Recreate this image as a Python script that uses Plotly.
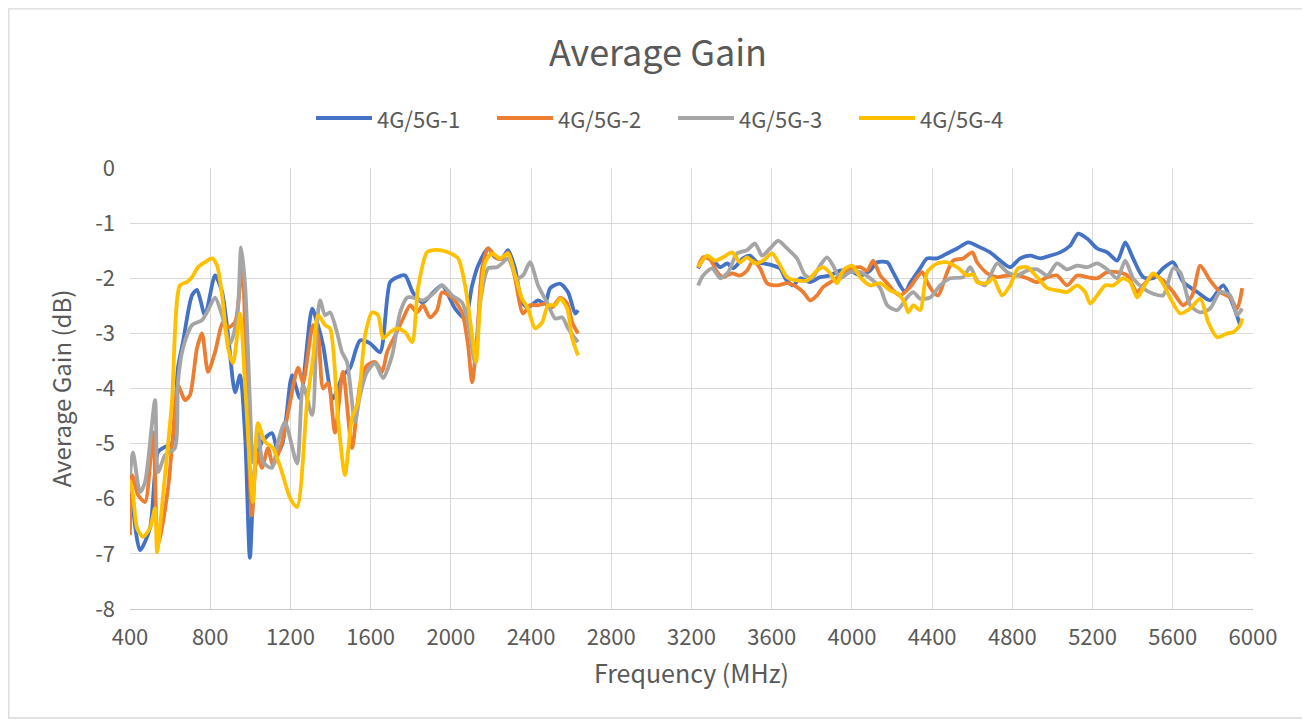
import plotly.graph_objects as go

# ---------------- data ----------------
series_names = ["4G/5G-1", "4G/5G-2", "4G/5G-3", "4G/5G-4"]
series_colors = ["#4472C4", "#ED7D31", "#A5A5A5", "#FFC000"]

# Band 1 (low band)
f1_b1 = [400, 450, 500, 540, 575, 609, 639, 664, 709, 734, 774, 824, 859, 889, 924, 949, 974, 998, 1023, 1058, 1108, 1138, 1160, 1180, 1208, 1248, 1308, 1333, 1363, 1412, 1462, 1497, 1547, 1597, 1647, 1697, 1732, 1772, 1811, 1861, 1911, 1956, 2021, 2071, 2106, 2136, 2186, 2220, 2255, 2285, 2320, 2355, 2385, 2435, 2470, 2495, 2545, 2585, 2620, 2634]
g1_b1 = [-5.57, -6.93, -6.53, -5.15, -5.06, -5.0, -3.63, -3.16, -2.31, -2.21, -2.67, -1.95, -2.25, -3.03, -4.07, -3.76, -4.85, -7.07, -5.44, -4.97, -4.81, -5.15, -5.0, -4.5, -3.76, -4.18, -2.55, -2.8, -3.22, -4.18, -3.76, -3.63, -3.13, -3.18, -3.34, -2.07, -1.98, -1.95, -2.26, -2.44, -2.26, -2.13, -2.55, -2.73, -2.13, -1.77, -1.46, -1.62, -1.64, -1.49, -1.82, -2.44, -2.53, -2.4, -2.46, -2.18, -2.1, -2.26, -2.64, -2.58]

f2_b1 = [400, 410, 440, 475, 515, 540, 590, 614, 639, 674, 699, 734, 759, 789, 824, 864, 889, 924, 959, 984, 1008, 1033, 1058, 1088, 1113, 1158, 1198, 1238, 1263, 1313, 1338, 1363, 1388, 1422, 1462, 1507, 1547, 1582, 1622, 1657, 1682, 1722, 1762, 1797, 1831, 1861, 1896, 1931, 1956, 2006, 2056, 2086, 2106, 2131, 2156, 2186, 2230, 2255, 2285, 2320, 2360, 2395, 2435, 2470, 2505, 2545, 2580, 2605, 2634]
g2_b1 = [-6.66, -5.57, -5.93, -6.06, -4.79, -6.84, -5.8, -4.85, -3.94, -4.21, -4.12, -3.27, -3.0, -3.7, -3.34, -2.8, -2.89, -2.8, -1.77, -4.25, -6.3, -5.16, -5.44, -5.08, -5.39, -4.97, -4.25, -3.62, -3.89, -2.85, -3.04, -4.0, -3.9, -4.8, -3.7, -5.08, -3.94, -3.58, -3.52, -3.7, -3.34, -3.04, -2.73, -2.49, -2.62, -2.49, -2.71, -2.58, -2.26, -2.35, -2.62, -3.22, -3.89, -3.04, -1.82, -1.46, -1.64, -1.64, -1.53, -2.0, -2.64, -2.49, -2.49, -2.46, -2.53, -2.35, -2.46, -2.8, -3.0]

f3_b1 = [400, 415, 450, 475, 525, 540, 575, 624, 639, 664, 709, 759, 789, 824, 859, 899, 934, 954, 974, 998, 1013, 1038, 1063, 1108, 1138, 1173, 1233, 1263, 1308, 1333, 1348, 1373, 1398, 1432, 1457, 1482, 1522, 1547, 1582, 1622, 1662, 1707, 1747, 1782, 1811, 1861, 1911, 1956, 2006, 2056, 2086, 2121, 2146, 2186, 2230, 2255, 2285, 2330, 2360, 2395, 2435, 2480, 2520, 2555, 2585, 2634]
g3_b1 = [-5.57, -5.16, -5.88, -5.7, -4.21, -5.52, -5.21, -5.08, -3.89, -3.27, -2.85, -2.76, -2.58, -2.35, -2.67, -3.18, -2.73, -1.44, -2.13, -4.25, -5.34, -4.8, -5.34, -5.44, -4.97, -4.61, -5.36, -3.94, -4.48, -2.8, -2.4, -2.67, -2.62, -2.98, -3.34, -3.52, -4.61, -4.12, -3.7, -3.54, -3.81, -3.4, -2.62, -2.35, -2.35, -2.4, -2.28, -2.13, -2.31, -2.44, -2.8, -3.54, -2.44, -1.82, -1.8, -1.73, -1.64, -2.0, -1.95, -1.71, -2.13, -2.44, -2.73, -2.71, -2.91, -3.16]

f4_b1 = [400, 415, 435, 465, 500, 525, 535, 565, 609, 649, 684, 709, 739, 774, 809, 834, 859, 889, 914, 949, 974, 1013, 1038, 1073, 1113, 1158, 1198, 1233, 1283, 1313, 1338, 1373, 1398, 1437, 1472, 1507, 1537, 1572, 1607, 1637, 1662, 1697, 1732, 1772, 1807, 1836, 1881, 1911, 1946, 1986, 2036, 2071, 2106, 2126, 2146, 2171, 2205, 2245, 2285, 2320, 2355, 2385, 2420, 2455, 2485, 2520, 2545, 2580, 2605, 2634]
g4_b1 = [-5.66, -5.93, -6.53, -6.69, -6.53, -6.17, -6.97, -5.93, -4.25, -2.13, -2.07, -1.98, -1.8, -1.71, -1.64, -1.77, -2.31, -3.27, -3.54, -2.64, -3.94, -6.06, -4.63, -4.97, -5.08, -5.52, -5.99, -6.15, -4.25, -3.45, -2.67, -2.85, -2.91, -4.54, -5.57, -4.54, -4.25, -3.04, -2.62, -2.67, -3.09, -2.98, -2.91, -2.98, -3.16, -2.18, -1.53, -1.49, -1.49, -1.53, -1.64, -2.13, -3.04, -3.52, -2.44, -1.71, -1.55, -1.64, -1.55, -1.95, -2.37, -2.55, -2.91, -2.8, -2.49, -2.49, -2.37, -2.55, -3.09, -3.4]

# Band 2 (mid/high band)
f1_b2 = [3233, 3268, 3308, 3343, 3378, 3407, 3457, 3492, 3527, 3557, 3607, 3642, 3667, 3707, 3742, 3791, 3841, 3891, 3941, 3991, 4041, 4091, 4126, 4176, 4205, 4240, 4265, 4290, 4340, 4375, 4425, 4475, 4525, 4580, 4639, 4689, 4739, 4789, 4839, 4889, 4939, 4989, 5038, 5088, 5128, 5173, 5223, 5273, 5323, 5363, 5402, 5452, 5502, 5552, 5602, 5652, 5722, 5786, 5851, 5901, 5936]
g1_b2 = [-1.82, -1.62, -1.68, -1.8, -1.73, -1.82, -1.64, -1.59, -1.71, -1.73, -1.77, -1.82, -2.0, -2.13, -2.0, -2.07, -1.98, -1.95, -1.86, -1.86, -1.95, -1.86, -1.71, -1.71, -1.89, -2.13, -2.25, -2.09, -1.82, -1.64, -1.64, -1.55, -1.46, -1.35, -1.44, -1.53, -1.68, -1.8, -1.64, -1.59, -1.64, -1.59, -1.53, -1.41, -1.19, -1.28, -1.46, -1.53, -1.68, -1.35, -1.64, -1.98, -2.0, -1.82, -1.71, -2.07, -2.25, -2.4, -2.13, -2.49, -2.85]

f2_b2 = [3233, 3258, 3293, 3328, 3358, 3402, 3442, 3477, 3507, 3542, 3577, 3627, 3677, 3726, 3757, 3791, 3826, 3856, 3906, 3956, 4006, 4041, 4076, 4106, 4141, 4176, 4205, 4240, 4290, 4325, 4350, 4375, 4405, 4430, 4475, 4505, 4555, 4600, 4624, 4674, 4724, 4774, 4824, 4874, 4924, 4974, 5023, 5073, 5123, 5173, 5223, 5273, 5323, 5373, 5422, 5452, 5502, 5552, 5602, 5652, 5697, 5737, 5786, 5836, 5886, 5921, 5946]
g2_b2 = [-1.8, -1.62, -1.66, -1.89, -1.98, -1.91, -1.95, -1.86, -1.68, -1.82, -2.09, -2.13, -2.09, -2.16, -2.25, -2.4, -2.31, -2.16, -2.04, -1.91, -1.82, -1.8, -1.86, -1.68, -1.95, -2.09, -2.22, -2.31, -2.16, -1.98, -1.89, -2.07, -2.25, -2.31, -1.89, -1.68, -1.64, -1.53, -1.71, -1.91, -1.98, -1.95, -1.95, -2.0, -2.07, -1.98, -1.95, -2.13, -1.95, -1.98, -2.0, -1.89, -1.89, -1.95, -2.25, -2.13, -1.95, -2.04, -2.25, -2.49, -2.31, -1.77, -2.04, -2.25, -2.35, -2.55, -2.18]

f3_b2 = [3233, 3258, 3303, 3343, 3383, 3427, 3477, 3517, 3552, 3592, 3632, 3677, 3726, 3767, 3801, 3841, 3876, 3906, 3941, 3991, 4041, 4091, 4141, 4176, 4225, 4275, 4305, 4340, 4390, 4440, 4490, 4555, 4590, 4624, 4664, 4724, 4774, 4824, 4874, 4924, 4974, 5023, 5073, 5123, 5173, 5223, 5273, 5323, 5363, 5402, 5452, 5502, 5552, 5602, 5637, 5687, 5737, 5786, 5836, 5886, 5921, 5946]
g3_b2 = [-2.13, -1.95, -1.82, -2.0, -1.89, -1.55, -1.49, -1.37, -1.59, -1.46, -1.32, -1.46, -1.64, -1.95, -2.0, -1.77, -1.62, -1.77, -2.0, -1.89, -1.89, -2.0, -2.18, -2.49, -2.58, -2.35, -2.25, -2.37, -2.35, -2.13, -2.0, -1.98, -1.8, -2.04, -2.13, -1.73, -1.89, -1.95, -1.86, -1.84, -1.95, -1.73, -1.84, -1.77, -1.8, -1.73, -1.84, -2.0, -1.68, -2.0, -2.18, -2.28, -2.31, -1.82, -1.89, -2.49, -2.62, -2.55, -2.25, -2.31, -2.67, -2.55]

f4_b2 = [3233, 3278, 3318, 3358, 3402, 3442, 3477, 3517, 3557, 3602, 3642, 3677, 3726, 3777, 3826, 3856, 3891, 3926, 3956, 4001, 4041, 4091, 4141, 4191, 4230, 4265, 4280, 4305, 4340, 4375, 4425, 4475, 4525, 4575, 4605, 4624, 4674, 4704, 4749, 4789, 4829, 4874, 4924, 4974, 5023, 5073, 5123, 5163, 5188, 5223, 5263, 5303, 5353, 5388, 5422, 5452, 5502, 5547, 5589, 5637, 5687, 5737, 5777, 5821, 5871, 5901, 5936, 5946]
g4_b2 = [-1.8, -1.59, -1.68, -1.62, -1.53, -1.71, -1.62, -1.73, -1.68, -1.55, -1.77, -1.98, -2.04, -2.04, -1.86, -1.8, -1.91, -2.09, -1.86, -1.77, -1.98, -2.13, -2.09, -2.22, -2.28, -2.46, -2.62, -2.49, -2.58, -1.89, -1.73, -1.71, -1.8, -1.95, -1.93, -2.07, -2.09, -2.0, -2.31, -2.13, -1.82, -1.8, -1.98, -2.18, -2.22, -2.25, -2.13, -2.25, -2.46, -2.31, -2.13, -2.13, -2.0, -2.07, -2.35, -2.18, -1.91, -2.07, -2.37, -2.64, -2.55, -2.37, -2.8, -3.07, -3.0, -2.98, -2.85, -2.73]

x_tick_vals = [400, 800, 1200, 1600, 2000, 2400, 2800, 3200, 3600, 4000, 4400, 4800, 5200, 5600, 6000]
x_tick_text = ["400", "800", "1200", "1600", "2000", "2400", "2800", "3200", "3600", "4000", "4400", "4800", "5200", "5600", "6000"]
y_tick_vals = [0, -1, -2, -3, -4, -5, -6, -7, -8]
y_tick_text = ["0", "-1", "-2", "-3", "-4", "-5", "-6", "-7", "-8"]

band1_f = [f1_b1, f2_b1, f3_b1, f4_b1]
band1_g = [g1_b1, g2_b1, g3_b1, g4_b1]
band2_f = [f1_b2, f2_b2, f3_b2, f4_b2]
band2_g = [g1_b2, g2_b2, g3_b2, g4_b2]

# ---------------- figure ----------------
FONT = "Noto Sans CJK SC"
TXT = "#595959"

fig = go.Figure()
for i, name in enumerate(series_names):
    xs = band1_f[i] + [None] + band2_f[i]
    ys = band1_g[i] + [None] + band2_g[i]
    fig.add_trace(go.Scatter(
        x=xs, y=ys, mode="lines", name=name, showlegend=False,
        line=dict(color=series_colors[i], width=3.8, shape="spline", smoothing=0.7),
        connectgaps=False,
    ))

W, H = 1302, 714
L, R, T, B = 122, 57, 160, 113
pw, ph = W - L - R, H - T - B


def px_x(px):
    return (px - L) / pw


def px_y(py):
    return (H - B - py) / ph


fig.update_layout(
    width=W, height=H,
    margin=dict(l=L, r=R, t=T, b=B, autoexpand=False),
    paper_bgcolor="white", plot_bgcolor="white",
    font=dict(family=FONT, color=TXT, size=20),
    title=dict(text="Average Gain", x=650 / W, xref="container", xanchor="center",
               y=1 - 45 / H, yref="container", yanchor="middle",
               font=dict(size=36, color=TXT, family=FONT)),
    showlegend=False,
)

fig.update_xaxes(
    range=[400, 6000], tickvals=x_tick_vals, ticktext=x_tick_text,
    showgrid=True, gridcolor="#d9d9d9", gridwidth=1.3,
    showline=True, linecolor="#c8c8c8", linewidth=1.3,
    zeroline=False, ticks="", ticklabelstandoff=8,
    tickfont=dict(size=22, color=TXT, family=FONT),
    title=dict(text="Frequency (MHz)", font=dict(size=25, color=TXT, family=FONT), standoff=15),
)
fig.update_yaxes(
    range=[-8, 0], tickvals=y_tick_vals, ticktext=y_tick_text,
    showgrid=True, gridcolor="#d9d9d9", gridwidth=1.3,
    showline=False, zeroline=False, ticks="", ticklabelstandoff=14,
    tickfont=dict(size=22, color=TXT, family=FONT),
    title=dict(text="Average Gain (dB)", font=dict(size=24, color=TXT, family=FONT), standoff=16),
)

# legend drawn as line swatches + text (Excel-style long swatches)
legend_line_starts = [308, 489, 670, 851]
legend_y = 110
for i, name in enumerate(series_names):
    x0 = legend_line_starts[i]
    fig.add_shape(type="line", xref="paper", yref="paper",
                  x0=px_x(x0), x1=px_x(x0 + 56), y0=px_y(legend_y), y1=px_y(legend_y),
                  line=dict(color=series_colors[i], width=4))
    fig.add_annotation(xref="paper", yref="paper", x=px_x(x0 + 59), y=px_y(legend_y),
                       text=name, showarrow=False, xanchor="left", yanchor="middle",
                       font=dict(size=22, color=TXT, family=FONT))

# outer chart border
fig.add_shape(type="rect", xref="paper", yref="paper",
              x0=px_x(0.8), x1=px_x(1299), y0=px_y(710), y1=px_y(0.8),
              line=dict(color="#d9d9d9", width=1.3), fillcolor="rgba(0,0,0,0)", layer="below")

fig.write_html("out.html")
